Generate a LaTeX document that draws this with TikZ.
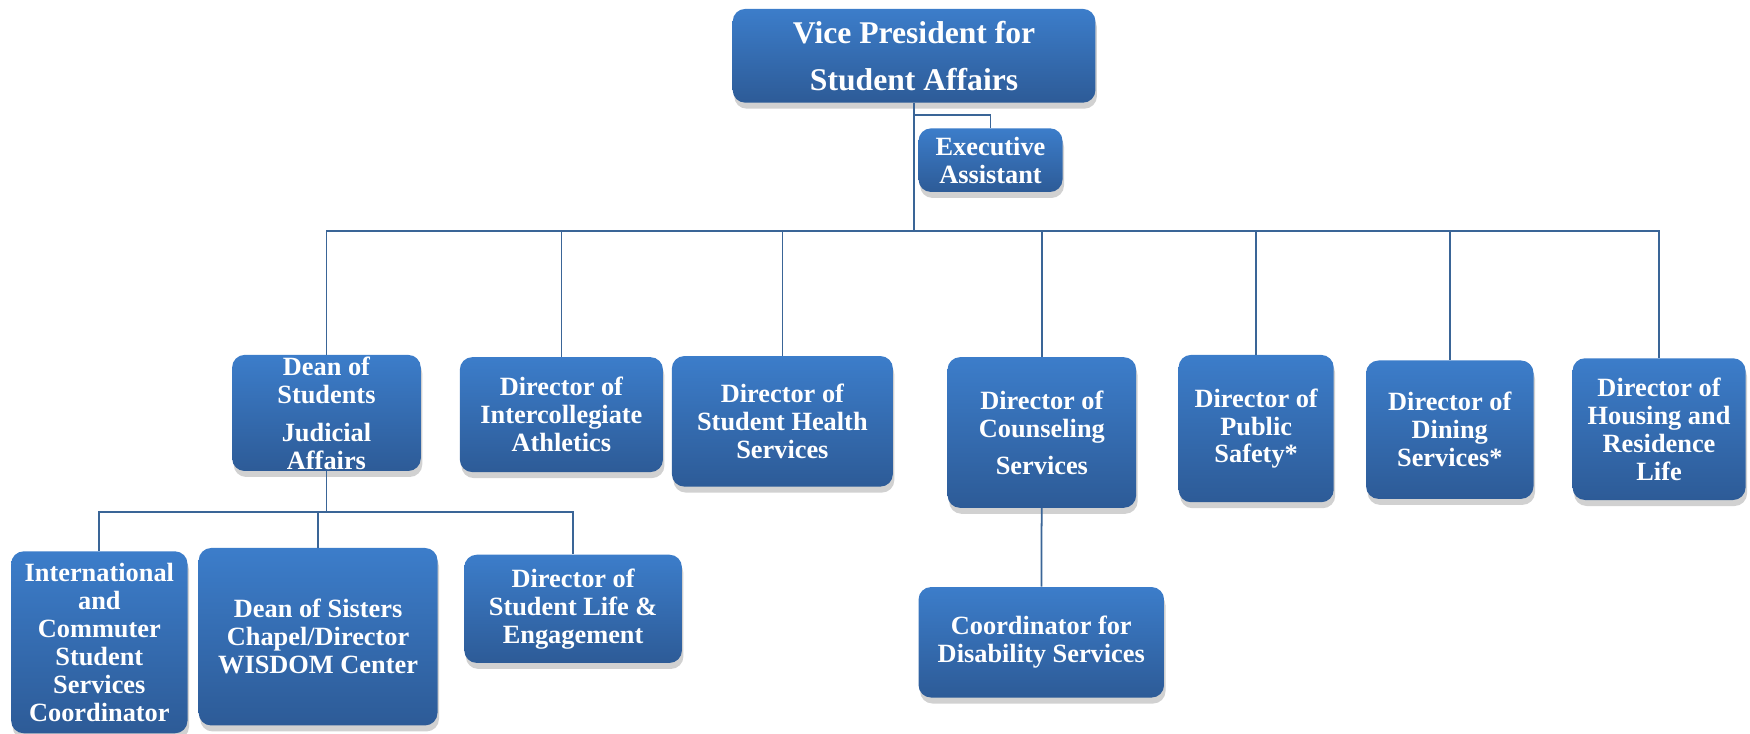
\documentclass[tikz,border=0pt]{standalone}
\usepackage{fontspec}
\setmainfont{Liberation Serif}
\usetikzlibrary{shadows}
\definecolor{boxtop}{HTML}{3C7DCA}
\definecolor{boxbottom}{HTML}{2D5B97}
\definecolor{linkcol}{HTML}{3A6597}
\begin{document}
\begin{tikzpicture}[x=0.02232cm,y=-0.02232cm,
  main node/.style={rectangle,rounded corners=0.25cm,top color=boxtop,bottom color=boxbottom,
    text=white,align=center,inner sep=0pt,font=\fontsize{15}{15.9}\selectfont\bfseries,
    drop shadow={shadow xshift=0.03cm,shadow yshift=-0.12cm,opacity=0.3,fill=black!60}},
  boxsize/.style 2 args={minimum width=#1*0.02232cm,minimum height=#2*0.02232cm},
  link/.style={draw=linkcol,line width=1pt},
  hv/.style={to path={-| (\tikztotarget)}}]
  \useasboundingbox (0,0) rectangle (1568,657);

  \node[main node,boxsize={325}{84},font=\fontsize{18}{26.7}\selectfont\bfseries] (1) at (819,50) {Vice President for\\Student Affairs};
  \node[main node,boxsize={129}{57}] (2) at (887.5,143.5) {Executive\\Assistant};
  \node[main node,boxsize={169}{104}] (3) at (292.5,370) {Dean of\\Students\\[0.2cm]Judicial\\Affairs};
  \node[main node,boxsize={182}{103}] (4) at (503,371.5) {Director of\\Intercollegiate\\Athletics};
  \node[main node,boxsize={198}{117}] (5) at (701,377.5) {Director of\\Student Health\\Services};
  \node[main node,boxsize={169}{135}] (6) at (933.5,387.5) {Director of\\Counseling\\[0.18cm]Services};
  \node[main node,boxsize={139}{132}] (7) at (1125.5,384) {Director of\\Public\\Safety*};
  \node[main node,boxsize={150}{124}] (8) at (1299,385) {Director of\\Dining\\Services*};
  \node[main node,boxsize={155}{127}] (9) at (1486.5,384.5) {Director of\\Housing and\\Residence\\Life};
  \node[main node,boxsize={158}{163}] (10) at (89,575.5) {International\\and\\Commuter\\Student\\Services\\Coordinator};
  \node[main node,boxsize={214}{159}] (11) at (285,570.5) {Dean of Sisters\\Chapel/Director\\WISDOM Center};
  \node[main node,boxsize={195}{97}] (12) at (513.5,545.5) {Director of\\Student Life \&\\Engagement};
  \node[main node,boxsize={220}{99}] (13) at (933,575.5) {Coordinator for\\Disability Services};

  \coordinate (vpexec) at (819,103);
  \coordinate (vpbus) at (819,207);
  \coordinate (deanbus) at (292.5,459);

  \path[link]
    (1) edge (vpbus)
    (vpexec) edge[hv] (2)
    (vpbus) edge[hv] (3)
    (vpbus) edge[hv] (4)
    (vpbus) edge[hv] (5)
    (vpbus) edge[hv] (6)
    (vpbus) edge[hv] (7)
    (vpbus) edge[hv] (8)
    (vpbus) edge[hv] (9)
    (3) edge (deanbus)
    (deanbus) edge[hv] (10)
    (deanbus) edge[hv] (11)
    (deanbus) edge[hv] (12)
    (6) edge (13);
\end{tikzpicture}
\end{document}
